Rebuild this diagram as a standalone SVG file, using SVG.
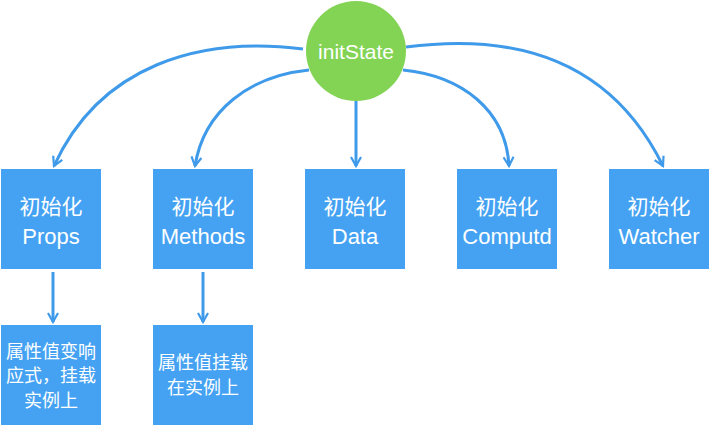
<svg xmlns="http://www.w3.org/2000/svg" width="710" height="426" viewBox="0 0 710 426">
<defs>
<marker id="ah" viewBox="0 0 12 12" refX="10" refY="6" markerWidth="12" markerHeight="12" markerUnits="userSpaceOnUse" orient="auto">
<path d="M1,1 L10,6 L1,11" fill="none" stroke="#3f9aea" stroke-width="2.2"/>
</marker>
<style>
.box{fill:#45a2f2}
.t{font-family:"Liberation Sans","Noto Sans CJK SC",sans-serif;fill:#ffffff;text-anchor:middle}
.c{fill:none;stroke:#3f9aea;stroke-width:3;marker-end:url(#ah)}
</style>
</defs>
<g id="connectors">
<path class="c" d="M303,49 C200,36 100,65 54,166"/>
<path class="c" d="M309,70 C250,76 204,110 195,166"/>
<path class="c" d="M356,101 L356,166"/>
<path class="c" d="M403,70 C462,76 506,110 509,166"/>
<path class="c" d="M406,47 C520,32 612,62 663,166"/>
<path class="c" d="M53,272 L53,322"/>
<path class="c" d="M203,272 L203,322"/>
</g>
<g id="initState">
<ellipse cx="356" cy="51" rx="50" ry="50" fill="#83d455"/>
<text class="t" x="356" y="59" font-size="21">initState</text>
</g>
<g id="props">
<rect class="box" x="1" y="169" width="100" height="100"/>
<text class="t" x="51" y="214" font-size="21">初始化</text>
<text class="t" x="51" y="244" font-size="22">Props</text>
</g>
<g id="methods">
<rect class="box" x="153" y="169" width="100" height="100"/>
<text class="t" x="203" y="214" font-size="21">初始化</text>
<text class="t" x="203" y="244" font-size="22">Methods</text>
</g>
<g id="data">
<rect class="box" x="305" y="169" width="100" height="100"/>
<text class="t" x="355" y="214" font-size="21">初始化</text>
<text class="t" x="355" y="244" font-size="22">Data</text>
</g>
<g id="computd">
<rect class="box" x="457" y="169" width="100" height="100"/>
<text class="t" x="507" y="214" font-size="21">初始化</text>
<text class="t" x="507" y="244" font-size="22">Computd</text>
</g>
<g id="watcher">
<rect class="box" x="609" y="169" width="100" height="100"/>
<text class="t" x="659" y="214" font-size="21">初始化</text>
<text class="t" x="659" y="244" font-size="22">Watcher</text>
</g>
<g id="props-detail">
<rect class="box" x="1" y="325" width="100" height="100"/>
<text class="t" x="51" y="358" font-size="18">属性值变响</text>
<text class="t" x="51" y="382" font-size="18">应式，挂载</text>
<text class="t" x="51" y="407" font-size="18">实例上</text>
</g>
<g id="methods-detail">
<rect class="box" x="153" y="325" width="100" height="100"/>
<text class="t" x="203" y="369" font-size="18">属性值挂载</text>
<text class="t" x="203" y="394" font-size="18">在实例上</text>
</g>
</svg>
